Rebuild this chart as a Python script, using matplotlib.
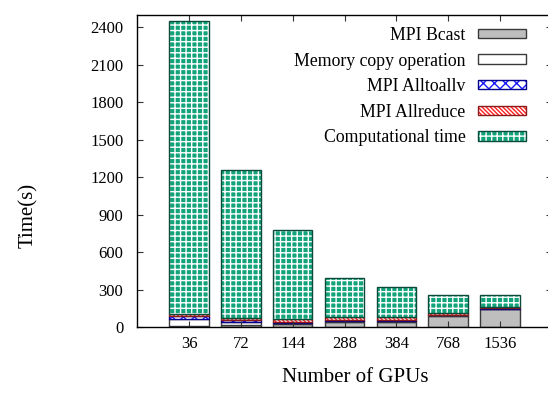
import matplotlib
matplotlib.use("Agg")
import matplotlib.pyplot as plt
import numpy as np
from matplotlib.legend_handler import HandlerTuple

plt.rcParams['font.family'] = ['Liberation Serif', 'DejaVu Serif']
plt.rcParams['hatch.linewidth'] = 1.0

gpus = ["36", "72", "144", "288", "384", "768", "1536"]
bcast = [10, 20, 30, 45, 45, 90, 145]
memcopy = [60, 25, 5, 5, 5, 5, 3]
alltoallv = [20, 15, 10, 10, 8, 5, 4]
allreduce = [15, 15, 25, 20, 27, 12, 10]
comp = [2345, 1180, 706, 312, 235, 146, 99]

series = [
    ("MPI Bcast", bcast, dict(face="#bebebe", hatch=None, hcol="#bebebe", edge="#3a3a3a")),
    ("Memory copy operation", memcopy, dict(face="white", hatch=None, hcol="white", edge="#3a3a3a")),
    ("MPI Alltoallv", alltoallv, dict(face="white", hatch="xxx", hcol="#1a1aff", edge="#00008b")),
    ("MPI Allreduce", allreduce, dict(face="white", hatch="\\" * 8, hcol="#ff2020", edge="#8b1a1a")),
    ("Computational time", comp, dict(face="#13a37b", hatch="+++", hcol="white", edge="#0a4a38")),
]

fig = plt.figure(figsize=(5.48, 4.0), dpi=100)
ax = fig.add_axes([137.3 / 548, 72.7 / 400, (551.7 - 137.3) / 548, (327.3 - 14.7) / 400])

x = np.arange(len(gpus))
width = 0.76
bottom = np.zeros(len(gpus))
handles = []
labels = []
for name, vals, st in series:
    vals = np.array(vals, dtype=float)
    f = ax.bar(x, vals, width, bottom=bottom, color=st["face"], hatch=st["hatch"],
               edgecolor=st["hcol"], linewidth=0)
    o = ax.bar(x, vals, width, bottom=bottom, fill=False, edgecolor=st["edge"], linewidth=1.0)
    bottom += vals
    handles.append((f[0], o[0]))
    labels.append(name)

ax.set_xlim(-1, 7)
ax.set_ylim(0, 2500)
ax.set_yticks(np.arange(0, 2401, 300))
ax.set_xticks(x)
ax.set_xticklabels(gpus)
ax.tick_params(axis='both', direction='in', length=4, width=0.8, labelsize=12,
               top=True, right=True, colors='#333333', labelcolor='black')
ax.tick_params(axis='x', pad=6)
ax.tick_params(axis='y', pad=10)
for s in ax.spines.values():
    s.set_linewidth(1.0)

fig.text(28 / 548, 1 - 215 / 400, "Time(s)", rotation=90, ha='center', va='center', fontsize=15)
fig.text(355 / 548, 1 - 378 / 400, "Number of GPUs", ha='center', va='center', fontsize=15)

leg = fig.legend(handles, labels, handler_map={tuple: HandlerTuple(ndivide=1)},
                 loc='upper right', bbox_to_anchor=(526 / 548, 1 - 27 / 400),
                 frameon=False, markerfirst=False, fontsize=12.8,
                 handlelength=2.72, handleheight=0.44, handletextpad=0.67,
                 labelspacing=0.48, borderpad=0, borderaxespad=0)
for t in leg.get_texts():
    t.set_ha('right')

fig.savefig("out.png", dpi=100)
